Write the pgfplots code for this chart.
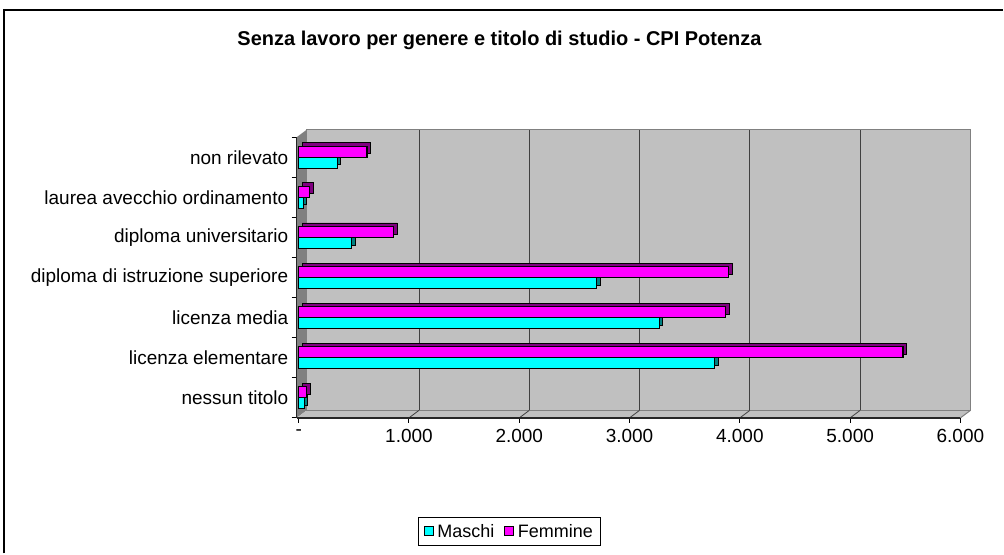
\documentclass[border=0pt]{standalone}
\usepackage{pgfplots}
\usepackage{pgfplotstable}
\pgfplotsset{compat=1.18}
\usepackage{fontspec}
\setmainfont{Liberation Sans}
\definecolor{cyanbar}{HTML}{00FFFF}
\definecolor{cyanside}{HTML}{008080}
\definecolor{magbar}{HTML}{FF00FF}
\definecolor{magside}{HTML}{800080}
\definecolor{wall}{HTML}{C0C0C0}
\definecolor{sidewall}{HTML}{808080}
\newcommand\fs{\fontsize{19bp}{22bp}\selectfont}
\newcommand\fsl{\fontsize{18bp}{21bp}\selectfont}

\pgfplotstableread{
y M F
0 50 70
1 3770 5480
2 3270 3870
3 2700 3900
4 480 860
5 40 100
6 350 620
}\datatable

\begin{document}
\begin{tikzpicture}[x=1bp,y=1bp]
\begin{axis}[
  x=0.1104bp, y=40.14bp,
  xmin=-18, xmax=6000, ymin=-0.5, ymax=6.5,
  clip=false, set layers,
  axis lines*=left,
  axis line style={-, line width=1.5bp, draw=black!85},
  tick align=outside,
  major tick length=5bp,
  tick style={black, line width=1bp},
  xtick={0,1000,2000,3000,4000,5000,6000},
  xticklabels={-,1.000,2.000,3.000,4.000,5.000,6.000},
  ytick={-0.5,0.5,1.5,2.5,3.5,4.5,5.5,6.5},
  yticklabels={},
  extra y ticks={0,1,2,3,4,5,6},
  extra y tick labels={nessun titolo,licenza elementare,licenza media,diploma di istruzione superiore,diploma universitario,laurea avecchio ordinamento,non rilevato},
  extra y tick style={major tick length=0pt},
  yticklabel style={font=\fs, xshift=-5bp},
  xticklabel style={font=\fs, yshift=-3bp},
  xbar, bar width=11bp,
  legend columns=2,
  legend style={at={(axis description cs:0.3205,-0.4046)}, anchor=center, draw=black, line width=1bp, font=\fsl, inner xsep=6bp, inner ysep=5bp, /tikz/every even column/.append style={column sep=8bp}},
  legend image code/.code={\draw[#1,line width=1bp] (0bp,-4.5bp) rectangle (9bp,4.5bp); \path[draw=none,fill=none] (0bp,0bp) -- (11bp,0bp);},
]
\begin{pgfonlayer}{axis background}
  \fill[sidewall] (axis cs:-18,-0.5) -- ([shift={(10bp,7.5bp)}]axis cs:-18,-0.5) -- ([shift={(10bp,7.5bp)}]axis cs:-18,6.5) -- (axis cs:-18,6.5) -- cycle;
  \fill[wall] (axis cs:-18,-0.5) -- ([shift={(10bp,7.5bp)}]axis cs:-18,-0.5) -- ([shift={(10bp,7.5bp)}]axis cs:6000,-0.5) -- (axis cs:6000,-0.5) -- cycle;
  \draw[fill=wall, draw=sidewall, line width=1bp] ([shift={(10bp,7.5bp)}]axis cs:-18,-0.5) rectangle ([shift={(10bp,7.5bp)}]axis cs:6000,6.5);
  \draw[sidewall, line width=1bp] (axis cs:6000,-0.5) -- ([shift={(10bp,7.5bp)}]axis cs:6000,-0.5);
  \pgfplotsinvokeforeach{1000,2000,3000,4000,5000}{
    \draw[black!75, line width=0.8bp] ([shift={(10bp,7.5bp)}]axis cs:#1,-0.5) -- ([shift={(10bp,7.5bp)}]axis cs:#1,6.5);
    \draw[black!75, line width=0.8bp] (axis cs:#1,-0.5) -- ([shift={(10bp,7.5bp)}]axis cs:#1,-0.5);
  }
\end{pgfonlayer}
\addplot[forget plot, fill=cyanside, draw=black, line width=0.8bp, bar shift=-5.5bp, xshift=3.5bp, yshift=3.5bp] table[x=M,y=y]{\datatable};
\addplot[fill=cyanbar, draw=black, line width=1.2bp, bar shift=-5.5bp] table[x=M,y=y]{\datatable};
\addlegendentry{Maschi}
\addplot[forget plot, fill=magside, draw=black, line width=0.8bp, bar shift=5.5bp, xshift=3.5bp, yshift=3.5bp] table[x=F,y=y]{\datatable};
\addplot[fill=magbar, draw=black, line width=1.2bp, bar shift=5.5bp] table[x=F,y=y]{\datatable};
\addlegendentry{Femmine}
\coordinate (O) at (axis cs:-18,-0.5);
\end{axis}
\path ([shift={(-297,-135.7)}]O) rectangle ([shift={(707,418.3)}]O);
\draw[line width=2bp] ([shift={(-292.5,-135.7)}]O) -- ([shift={(-292.5,408.3)}]O) -- ([shift={(707,408.3)}]O);
\node[font=\bfseries\fontsize{20bp}{23bp}\selectfont] at ([shift={(203,378.3)}]O) {Senza lavoro per genere e titolo di studio - CPI Potenza};
\end{tikzpicture}
\end{document}
